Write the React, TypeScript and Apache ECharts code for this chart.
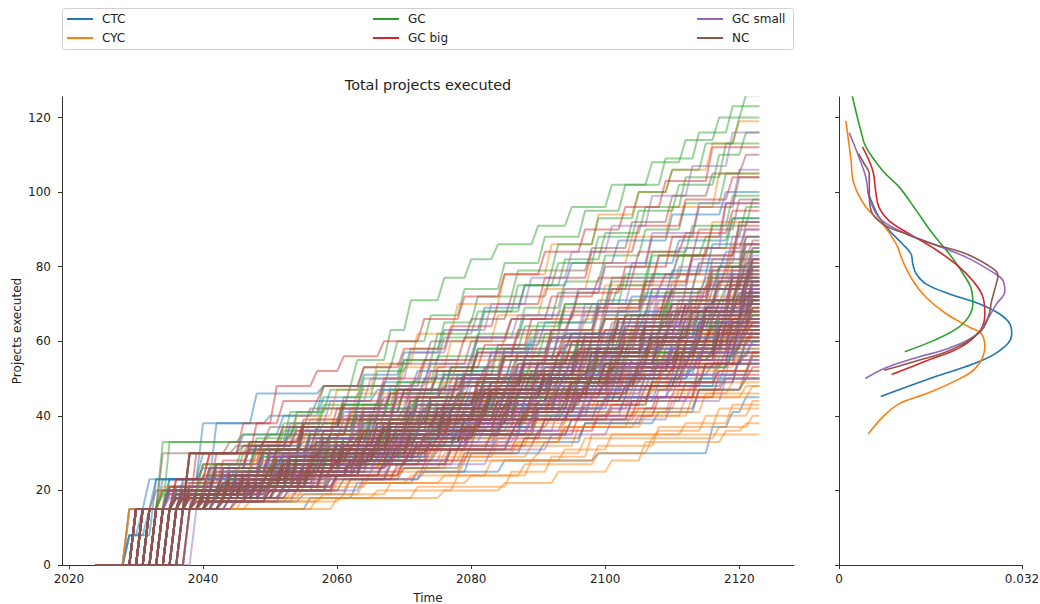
import React, { useEffect, useRef } from "react";
import * as echarts from "echarts";

const GROUPS = ["CTC", "CYC", "GC", "GC big", "GC small", "NC"];
const COLORS = ["#1f77b4", "#ff7f0e", "#2ca02c", "#d62728", "#9467bd", "#8c564b"];
const START_YEAR = 2024;
const END_YEAR = 2123;
const X_TICKS = [2020, 2040, 2060, 2080, 2100, 2120];
const Y_TICKS = [0, 20, 40, 60, 80, 100, 120];
const KDE_TICKS = [0, 0.032];

// each run: [year the count changes, new count, ...]
const CTC_RUNS: number[][] = [
  [2031, 15, 2056, 18, 2063, 22, 2072, 25, 2085, 28, 2099, 30, 2116, 37, 2119, 41, 2121, 45],
  [2029, 8, 2033, 23, 2040, 26, 2052, 30, 2064, 33, 2078, 37, 2090, 41, 2103, 45, 2114, 50],
  [2034, 15, 2040, 19, 2050, 22, 2058, 27, 2068, 31, 2076, 35, 2088, 40, 2097, 44, 2108, 49, 2118, 54],
  [2032, 15, 2035, 23, 2040, 38, 2048, 46, 2058, 48, 2072, 50, 2090, 52, 2104, 55, 2116, 57],
  [2036, 15, 2041, 18, 2049, 21, 2055, 25, 2062, 29, 2070, 33, 2079, 38, 2088, 43, 2096, 47, 2105, 52, 2114, 56, 2120, 59],
  [2030, 15, 2035, 18, 2044, 23, 2052, 26, 2061, 31, 2069, 35, 2077, 40, 2086, 44, 2096, 48, 2104, 53, 2113, 60],
  [2033, 15, 2040, 17, 2047, 20, 2053, 25, 2060, 28, 2067, 33, 2075, 37, 2084, 42, 2093, 47, 2102, 52, 2111, 57, 2119, 61],
  [2037, 15, 2042, 20, 2049, 24, 2057, 27, 2064, 32, 2072, 36, 2080, 41, 2089, 45, 2098, 50, 2106, 55, 2115, 62],
  [2031, 15, 2036, 19, 2046, 22, 2055, 26, 2063, 30, 2071, 35, 2078, 40, 2088, 44, 2097, 49, 2108, 55, 2117, 62],
  [2035, 15, 2039, 20, 2045, 24, 2052, 28, 2059, 33, 2066, 37, 2075, 41, 2083, 46, 2091, 50, 2100, 55, 2110, 59, 2120, 63],
  [2032, 15, 2037, 18, 2043, 22, 2050, 27, 2058, 31, 2065, 36, 2073, 40, 2081, 45, 2090, 50, 2099, 54, 2108, 59, 2118, 64],
  [2029, 8, 2031, 15, 2038, 20, 2046, 24, 2053, 29, 2061, 33, 2069, 38, 2077, 42, 2086, 47, 2094, 52, 2103, 57, 2114, 65],
  [2034, 15, 2040, 19, 2047, 25, 2054, 29, 2061, 34, 2068, 38, 2076, 43, 2084, 48, 2092, 53, 2100, 57, 2109, 62, 2119, 66],
  [2030, 15, 2035, 23, 2045, 26, 2052, 30, 2059, 35, 2066, 40, 2074, 45, 2082, 50, 2090, 54, 2099, 59, 2108, 63, 2117, 68],
  [2033, 15, 2038, 20, 2044, 26, 2051, 31, 2058, 36, 2065, 41, 2072, 45, 2080, 50, 2088, 55, 2096, 60, 2105, 65, 2115, 70],
  [2031, 15, 2036, 21, 2042, 27, 2048, 32, 2055, 37, 2063, 42, 2071, 47, 2079, 52, 2087, 57, 2095, 62, 2104, 67, 2113, 74],
  [2032, 15, 2037, 19, 2044, 24, 2051, 29, 2058, 34, 2065, 39, 2072, 45, 2079, 50, 2087, 56, 2094, 62, 2102, 68, 2110, 74, 2119, 80],
  [2030, 15, 2034, 20, 2042, 25, 2049, 30, 2056, 36, 2063, 41, 2070, 47, 2077, 53, 2084, 59, 2091, 65, 2099, 71, 2107, 78, 2116, 86],
  [2031, 15, 2035, 20, 2041, 26, 2048, 32, 2054, 37, 2061, 43, 2067, 49, 2074, 55, 2081, 61, 2088, 67, 2096, 74, 2104, 81, 2111, 87, 2119, 93],
  [2029, 15, 2033, 23, 2040, 30, 2046, 35, 2052, 40, 2058, 45, 2064, 51, 2070, 57, 2076, 63, 2082, 69, 2088, 75, 2095, 81, 2102, 87, 2110, 94, 2118, 100],
  [2031, 15, 2036, 19, 2046, 21, 2052, 26, 2063, 28, 2068, 33, 2079, 36, 2085, 41, 2096, 44, 2102, 50, 2113, 53, 2119, 58],
  [2029, 15, 2034, 23, 2044, 25, 2050, 30, 2061, 32, 2066, 37, 2077, 40, 2083, 45, 2094, 48, 2100, 54, 2111, 57, 2118, 63],
  [2033, 15, 2040, 18, 2048, 22, 2058, 24, 2064, 29, 2075, 32, 2081, 37, 2092, 40, 2098, 45, 2110, 48, 2117, 54],
  [2030, 15, 2032, 23, 2042, 38, 2050, 40, 2057, 44, 2066, 47, 2072, 52, 2083, 55, 2089, 60, 2100, 63, 2106, 68, 2116, 71, 2121, 76],
  [2035, 15, 2043, 17, 2055, 19, 2062, 23, 2073, 25, 2080, 30, 2091, 33, 2097, 38, 2108, 41, 2114, 47, 2121, 50],
  [2032, 15, 2037, 20, 2045, 24, 2051, 29, 2060, 32, 2066, 38, 2076, 41, 2082, 46, 2092, 50, 2098, 55, 2108, 58, 2114, 64, 2121, 67],
  [2036, 15, 2044, 18, 2052, 21, 2059, 26, 2068, 29, 2074, 34, 2084, 37, 2090, 42, 2100, 45, 2106, 51, 2116, 54, 2121, 61],
  [2031, 15, 2035, 21, 2042, 25, 2050, 28, 2056, 34, 2065, 37, 2071, 43, 2080, 46, 2086, 52, 2096, 55, 2102, 61, 2112, 64, 2119, 70],
  [2034, 15, 2039, 19, 2050, 21, 2056, 25, 2067, 27, 2073, 32, 2084, 35, 2090, 40, 2101, 43, 2107, 48, 2118, 51, 2122, 56],
  [2029, 8, 2032, 15, 2037, 23, 2047, 26, 2053, 31, 2062, 34, 2068, 40, 2077, 43, 2083, 49, 2093, 52, 2099, 58, 2109, 62, 2115, 68, 2122, 73],
  [2033, 15, 2038, 18, 2047, 21, 2053, 25, 2062, 28, 2069, 32, 2078, 35, 2085, 39, 2094, 42, 2101, 47, 2110, 50, 2117, 56, 2122, 60],
  [2030, 15, 2035, 20, 2040, 27, 2047, 31, 2053, 37, 2061, 41, 2067, 47, 2075, 51, 2081, 57, 2089, 61, 2095, 68, 2104, 72, 2110, 79, 2118, 84],
];

const CYC_RUNS: number[][] = [
  [2032, 15, 2057, 18, 2072, 21, 2086, 25, 2092, 29, 2098, 35],
  [2034, 15, 2060, 18, 2076, 20, 2085, 22, 2093, 25, 2101, 28, 2106, 33, 2118, 36, 2121, 38],
  [2036, 15, 2046, 18, 2066, 20, 2078, 24, 2089, 28, 2099, 32, 2108, 37, 2117, 42],
  [2033, 15, 2040, 18, 2055, 21, 2065, 25, 2074, 29, 2084, 33, 2094, 37, 2104, 41, 2115, 46],
  [2031, 15, 2038, 18, 2050, 20, 2060, 24, 2070, 28, 2079, 32, 2089, 37, 2099, 41, 2110, 46, 2119, 49],
  [2035, 15, 2041, 19, 2050, 22, 2058, 26, 2067, 30, 2076, 34, 2086, 38, 2095, 43, 2104, 47, 2114, 52],
  [2030, 15, 2036, 18, 2046, 21, 2055, 25, 2063, 29, 2072, 33, 2081, 38, 2090, 42, 2099, 46, 2108, 51, 2117, 55],
  [2037, 15, 2043, 18, 2051, 22, 2059, 26, 2067, 30, 2075, 35, 2084, 39, 2092, 44, 2101, 48, 2110, 53, 2120, 57],
  [2033, 15, 2039, 20, 2047, 23, 2056, 27, 2064, 31, 2073, 35, 2081, 40, 2090, 44, 2099, 49, 2109, 53, 2118, 58],
  [2032, 15, 2036, 18, 2044, 22, 2052, 26, 2060, 30, 2068, 35, 2077, 39, 2085, 43, 2094, 48, 2103, 52, 2112, 60],
  [2038, 15, 2041, 18, 2048, 23, 2056, 27, 2064, 31, 2072, 36, 2080, 40, 2089, 45, 2097, 49, 2106, 54, 2115, 61],
  [2034, 15, 2040, 19, 2047, 24, 2054, 28, 2062, 32, 2070, 37, 2078, 41, 2087, 46, 2095, 50, 2104, 55, 2114, 62],
  [2031, 15, 2037, 20, 2043, 25, 2051, 29, 2059, 33, 2066, 38, 2075, 42, 2083, 47, 2091, 52, 2100, 56, 2109, 60, 2118, 64],
  [2035, 15, 2040, 21, 2046, 26, 2053, 30, 2060, 35, 2068, 39, 2076, 44, 2084, 49, 2092, 54, 2100, 58, 2109, 63, 2119, 67],
  [2030, 15, 2034, 20, 2041, 25, 2048, 30, 2055, 35, 2063, 40, 2071, 44, 2079, 49, 2087, 54, 2095, 59, 2104, 64, 2114, 71],
  [2033, 15, 2038, 19, 2045, 23, 2052, 28, 2059, 33, 2066, 38, 2073, 43, 2081, 49, 2089, 54, 2097, 60, 2105, 66, 2113, 72, 2120, 77],
  [2032, 15, 2037, 19, 2044, 24, 2051, 29, 2058, 34, 2065, 40, 2072, 45, 2079, 51, 2087, 57, 2094, 63, 2102, 69, 2110, 76, 2119, 84],
  [2031, 15, 2036, 20, 2043, 26, 2050, 31, 2057, 37, 2064, 43, 2071, 49, 2078, 55, 2085, 61, 2093, 68, 2100, 75, 2108, 83, 2116, 92],
  [2030, 15, 2035, 21, 2042, 27, 2049, 33, 2056, 39, 2063, 46, 2070, 53, 2077, 60, 2084, 67, 2091, 74, 2098, 81, 2104, 88, 2110, 96, 2117, 105],
  [2029, 15, 2034, 20, 2040, 27, 2047, 33, 2054, 40, 2060, 47, 2066, 54, 2072, 62, 2078, 70, 2085, 78, 2092, 86, 2099, 94, 2105, 100, 2110, 106, 2116, 113, 2120, 119],
  [2033, 15, 2045, 17, 2058, 19, 2064, 22, 2076, 24, 2083, 28, 2094, 31, 2101, 35, 2112, 38, 2119, 43],
  [2031, 15, 2038, 18, 2050, 21, 2056, 25, 2066, 27, 2073, 32, 2083, 35, 2090, 40, 2101, 43, 2107, 49, 2117, 52, 2122, 56],
  [2035, 15, 2042, 18, 2052, 20, 2059, 24, 2070, 26, 2077, 31, 2088, 34, 2094, 39, 2105, 42, 2111, 47, 2121, 50],
  [2030, 15, 2036, 20, 2045, 23, 2052, 28, 2061, 31, 2068, 36, 2077, 39, 2084, 45, 2094, 48, 2100, 54, 2110, 57, 2116, 63, 2122, 66],
  [2037, 15, 2047, 17, 2061, 19, 2068, 22, 2080, 24, 2088, 27, 2099, 30, 2107, 34, 2117, 37, 2122, 40],
  [2032, 15, 2039, 19, 2048, 22, 2054, 27, 2064, 30, 2070, 35, 2080, 38, 2086, 44, 2096, 47, 2102, 53, 2112, 56, 2118, 62, 2122, 65],
  [2034, 15, 2040, 18, 2051, 20, 2058, 24, 2069, 26, 2076, 30, 2087, 33, 2094, 37, 2105, 40, 2112, 45, 2121, 48],
  [2029, 15, 2034, 21, 2041, 26, 2048, 30, 2055, 35, 2062, 39, 2069, 45, 2076, 49, 2083, 55, 2090, 60, 2097, 66, 2104, 71, 2111, 78, 2119, 86],
  [2036, 15, 2043, 18, 2054, 20, 2062, 23, 2072, 25, 2079, 29, 2089, 32, 2096, 37, 2106, 40, 2113, 45, 2122, 48],
  [2031, 15, 2037, 19, 2045, 23, 2052, 27, 2060, 30, 2067, 35, 2076, 38, 2082, 44, 2092, 47, 2098, 53, 2108, 56, 2114, 62, 2121, 68],
  [2033, 15, 2041, 17, 2053, 19, 2060, 22, 2071, 24, 2079, 28, 2090, 30, 2097, 34, 2108, 36, 2115, 40, 2122, 44],
  [2030, 15, 2035, 19, 2043, 22, 2050, 27, 2059, 30, 2065, 35, 2075, 38, 2081, 44, 2090, 47, 2096, 53, 2106, 57, 2112, 63, 2120, 72],
];

const GC_RUNS: number[][] = [
  [2030, 15, 2035, 20, 2041, 26, 2047, 33, 2053, 41, 2058, 48, 2063, 55, 2068, 63, 2071, 71, 2076, 77, 2080, 82, 2084, 86, 2090, 91, 2095, 96, 2101, 102, 2107, 108, 2112, 114, 2117, 120, 2121, 126],
  [2031, 15, 2036, 21, 2042, 27, 2048, 34, 2054, 41, 2059, 47, 2064, 53, 2069, 60, 2074, 67, 2079, 74, 2085, 81, 2091, 88, 2097, 95, 2103, 102, 2109, 109, 2114, 116, 2119, 123],
  [2032, 15, 2037, 20, 2043, 25, 2049, 31, 2055, 38, 2061, 45, 2066, 52, 2071, 58, 2076, 65, 2081, 72, 2087, 79, 2093, 86, 2099, 93, 2105, 100, 2110, 106, 2115, 113, 2120, 120],
  [2030, 15, 2034, 19, 2040, 24, 2046, 30, 2052, 36, 2058, 42, 2064, 48, 2070, 55, 2076, 61, 2082, 68, 2088, 75, 2094, 82, 2100, 89, 2106, 96, 2112, 104, 2118, 113],
  [2033, 15, 2038, 20, 2044, 25, 2050, 31, 2057, 37, 2063, 43, 2069, 49, 2075, 56, 2081, 62, 2088, 69, 2094, 76, 2100, 83, 2106, 90, 2112, 97, 2118, 105],
  [2031, 15, 2036, 20, 2043, 24, 2049, 29, 2056, 35, 2062, 40, 2068, 46, 2075, 52, 2081, 58, 2088, 64, 2094, 70, 2101, 77, 2107, 84, 2113, 91, 2119, 99],
  [2034, 15, 2039, 19, 2046, 24, 2052, 29, 2059, 34, 2065, 39, 2072, 45, 2078, 51, 2085, 57, 2092, 63, 2099, 70, 2106, 77, 2112, 85, 2119, 93],
  [2032, 15, 2037, 19, 2044, 23, 2051, 28, 2058, 33, 2065, 38, 2072, 44, 2079, 49, 2086, 55, 2093, 61, 2100, 67, 2107, 74, 2114, 81, 2121, 88],
  [2035, 15, 2040, 20, 2047, 24, 2054, 29, 2061, 34, 2068, 39, 2075, 44, 2082, 50, 2089, 55, 2096, 61, 2103, 67, 2110, 74, 2117, 80, 2121, 84],
  [2031, 15, 2036, 18, 2043, 22, 2050, 27, 2057, 31, 2064, 36, 2071, 41, 2078, 46, 2086, 51, 2093, 57, 2101, 63, 2109, 70, 2117, 80],
  [2033, 15, 2038, 19, 2045, 23, 2052, 27, 2059, 32, 2067, 36, 2074, 41, 2081, 46, 2089, 51, 2096, 57, 2104, 63, 2112, 70, 2120, 77],
  [2036, 15, 2040, 18, 2047, 22, 2054, 26, 2061, 31, 2068, 35, 2076, 40, 2083, 45, 2091, 50, 2099, 56, 2107, 62, 2114, 68, 2121, 74],
  [2030, 15, 2034, 33, 2050, 35, 2058, 38, 2066, 41, 2074, 45, 2082, 49, 2090, 54, 2098, 59, 2106, 64, 2114, 68, 2120, 72],
  [2032, 15, 2037, 18, 2044, 21, 2051, 25, 2058, 29, 2066, 33, 2074, 38, 2082, 43, 2090, 48, 2098, 53, 2106, 58, 2114, 64, 2121, 70],
  [2034, 15, 2039, 19, 2046, 23, 2053, 27, 2061, 31, 2068, 35, 2076, 40, 2084, 44, 2092, 49, 2100, 54, 2108, 59, 2116, 65, 2122, 69],
  [2031, 15, 2036, 20, 2043, 24, 2051, 28, 2059, 32, 2067, 36, 2075, 40, 2083, 45, 2091, 50, 2099, 55, 2107, 60, 2116, 68],
  [2033, 15, 2038, 18, 2045, 22, 2053, 26, 2061, 30, 2069, 34, 2077, 39, 2085, 43, 2093, 48, 2101, 53, 2109, 58, 2117, 66],
  [2037, 15, 2041, 19, 2048, 23, 2055, 27, 2063, 31, 2071, 35, 2079, 40, 2087, 44, 2095, 49, 2103, 54, 2111, 59, 2119, 65],
  [2030, 15, 2035, 19, 2043, 22, 2051, 26, 2059, 30, 2067, 34, 2075, 38, 2083, 43, 2091, 47, 2099, 52, 2108, 57, 2117, 63],
  [2035, 15, 2040, 18, 2048, 21, 2056, 25, 2064, 29, 2072, 33, 2080, 37, 2088, 42, 2096, 46, 2104, 51, 2113, 55, 2120, 60],
  [2032, 15, 2038, 18, 2046, 21, 2054, 24, 2062, 28, 2070, 32, 2078, 36, 2086, 40, 2094, 44, 2102, 48, 2111, 53, 2119, 57],
  [2031, 15, 2036, 20, 2042, 26, 2050, 29, 2055, 36, 2063, 40, 2068, 47, 2076, 51, 2081, 58, 2089, 63, 2094, 70, 2102, 75, 2107, 83, 2115, 88, 2121, 96],
  [2033, 15, 2039, 19, 2047, 22, 2053, 28, 2062, 31, 2068, 37, 2077, 41, 2083, 47, 2092, 51, 2098, 57, 2107, 61, 2113, 68, 2121, 73],
  [2030, 15, 2034, 20, 2044, 23, 2049, 29, 2058, 32, 2064, 38, 2073, 42, 2079, 48, 2088, 52, 2094, 59, 2103, 63, 2109, 70, 2118, 75, 2122, 80],
  [2035, 15, 2041, 18, 2049, 21, 2056, 27, 2065, 30, 2071, 36, 2081, 39, 2087, 45, 2096, 49, 2102, 55, 2112, 58, 2118, 65, 2122, 67],
  [2032, 15, 2035, 33, 2046, 35, 2054, 38, 2061, 43, 2070, 46, 2076, 52, 2085, 56, 2091, 62, 2100, 66, 2106, 73, 2115, 77, 2121, 84],
  [2034, 15, 2038, 21, 2045, 25, 2051, 31, 2059, 35, 2064, 42, 2072, 46, 2077, 53, 2085, 58, 2090, 65, 2098, 70, 2103, 78, 2111, 83, 2116, 91, 2122, 98],
  [2031, 15, 2040, 18, 2048, 22, 2055, 27, 2064, 30, 2070, 36, 2080, 39, 2086, 45, 2095, 49, 2101, 55, 2111, 59, 2117, 66, 2122, 71],
  [2036, 15, 2042, 19, 2050, 23, 2057, 28, 2066, 31, 2072, 37, 2081, 41, 2087, 47, 2096, 51, 2102, 57, 2111, 61, 2117, 68, 2122, 76],
  [2030, 15, 2035, 21, 2040, 27, 2046, 32, 2052, 38, 2058, 43, 2064, 50, 2070, 55, 2075, 62, 2081, 68, 2087, 75, 2093, 81, 2099, 88, 2105, 95, 2111, 102, 2117, 110, 2121, 116],
  [2033, 15, 2037, 18, 2046, 21, 2052, 26, 2061, 29, 2067, 34, 2076, 37, 2082, 43, 2092, 46, 2098, 52, 2108, 55, 2114, 61, 2121, 64],
  [2035, 15, 2039, 20, 2045, 24, 2053, 28, 2060, 34, 2068, 38, 2074, 44, 2082, 48, 2088, 55, 2096, 59, 2102, 66, 2110, 71, 2116, 78, 2122, 84],
  [2032, 15, 2038, 19, 2046, 23, 2054, 27, 2061, 33, 2069, 36, 2076, 42, 2084, 46, 2091, 52, 2099, 56, 2106, 63, 2114, 67, 2121, 71],
];

const GC_BIG_RUNS: number[][] = [
  [2031, 15, 2036, 23, 2041, 30, 2046, 38, 2051, 48, 2057, 52, 2061, 56, 2067, 60, 2073, 66, 2079, 72, 2085, 78, 2091, 84, 2097, 90, 2103, 96, 2109, 103, 2116, 112],
  [2030, 15, 2035, 20, 2042, 30, 2048, 38, 2052, 44, 2058, 48, 2064, 53, 2070, 58, 2077, 64, 2084, 70, 2091, 77, 2098, 84, 2105, 91, 2112, 98, 2119, 104],
  [2033, 15, 2038, 19, 2044, 25, 2050, 30, 2056, 35, 2062, 41, 2069, 47, 2075, 53, 2082, 59, 2089, 66, 2096, 73, 2103, 80, 2110, 88, 2118, 97],
  [2032, 15, 2037, 20, 2043, 24, 2050, 29, 2057, 34, 2064, 39, 2071, 45, 2078, 50, 2085, 56, 2092, 63, 2099, 69, 2106, 76, 2113, 83, 2120, 91],
  [2034, 15, 2039, 19, 2046, 23, 2053, 28, 2060, 33, 2067, 38, 2074, 43, 2081, 48, 2088, 54, 2095, 60, 2102, 66, 2109, 72, 2116, 79, 2121, 86],
  [2031, 15, 2036, 18, 2043, 22, 2050, 26, 2057, 31, 2064, 36, 2071, 41, 2078, 46, 2085, 51, 2093, 57, 2100, 63, 2108, 69, 2115, 75, 2121, 82],
  [2035, 15, 2040, 19, 2047, 23, 2054, 28, 2061, 32, 2068, 37, 2075, 42, 2082, 47, 2090, 52, 2097, 58, 2105, 64, 2112, 70, 2119, 78],
  [2030, 15, 2035, 20, 2042, 24, 2049, 28, 2056, 32, 2064, 36, 2071, 41, 2079, 46, 2087, 51, 2095, 56, 2103, 62, 2111, 68, 2119, 75],
  [2033, 15, 2038, 18, 2045, 22, 2052, 26, 2060, 30, 2068, 35, 2076, 39, 2084, 44, 2092, 49, 2100, 54, 2108, 60, 2116, 66, 2121, 72],
  [2036, 15, 2040, 18, 2047, 22, 2055, 26, 2063, 30, 2071, 34, 2079, 39, 2087, 44, 2095, 49, 2103, 54, 2111, 60, 2119, 70],
  [2031, 15, 2037, 19, 2044, 22, 2052, 26, 2060, 28, 2066, 32, 2074, 36, 2082, 41, 2090, 46, 2098, 51, 2106, 56, 2114, 62, 2121, 68],
  [2034, 15, 2039, 18, 2047, 21, 2055, 25, 2063, 29, 2071, 33, 2079, 37, 2087, 42, 2095, 46, 2103, 51, 2111, 57, 2119, 66],
  [2032, 15, 2038, 20, 2045, 23, 2053, 27, 2061, 31, 2069, 35, 2077, 39, 2085, 43, 2093, 48, 2101, 53, 2110, 58, 2118, 65],
  [2037, 15, 2041, 19, 2049, 23, 2057, 27, 2065, 31, 2073, 35, 2081, 39, 2089, 44, 2097, 48, 2105, 53, 2113, 58, 2120, 64],
  [2030, 15, 2036, 18, 2044, 21, 2052, 25, 2060, 28, 2068, 32, 2076, 36, 2084, 41, 2092, 45, 2100, 50, 2109, 55, 2117, 63],
  [2035, 15, 2040, 19, 2048, 22, 2056, 26, 2064, 29, 2072, 33, 2080, 37, 2088, 41, 2096, 46, 2104, 50, 2112, 55, 2119, 61],
  [2033, 15, 2039, 17, 2047, 20, 2055, 24, 2063, 27, 2071, 31, 2079, 35, 2087, 39, 2095, 44, 2103, 48, 2112, 54, 2120, 59],
  [2031, 15, 2037, 18, 2045, 21, 2054, 24, 2062, 28, 2071, 31, 2080, 35, 2089, 39, 2097, 43, 2106, 48, 2115, 54, 2121, 57],
  [2036, 15, 2041, 17, 2050, 20, 2060, 23, 2069, 27, 2078, 31, 2087, 35, 2096, 40, 2105, 45, 2114, 54],
  [2034, 15, 2040, 18, 2050, 21, 2060, 24, 2070, 28, 2080, 32, 2090, 36, 2099, 40, 2108, 45, 2117, 51],
  [2031, 15, 2037, 20, 2045, 23, 2051, 29, 2060, 32, 2066, 38, 2075, 41, 2081, 47, 2090, 51, 2096, 57, 2106, 60, 2112, 66, 2121, 70],
  [2034, 15, 2039, 30, 2047, 33, 2052, 37, 2061, 40, 2067, 45, 2076, 48, 2082, 53, 2091, 56, 2097, 61, 2106, 64, 2112, 70, 2121, 74],
  [2030, 15, 2036, 19, 2044, 22, 2052, 26, 2060, 28, 2066, 34, 2076, 37, 2082, 42, 2092, 45, 2098, 51, 2108, 54, 2115, 60, 2122, 63],
  [2033, 15, 2038, 22, 2043, 28, 2049, 33, 2055, 39, 2061, 44, 2067, 50, 2073, 55, 2079, 61, 2086, 66, 2092, 72, 2099, 77, 2105, 84, 2112, 89, 2119, 95],
  [2036, 15, 2043, 18, 2052, 21, 2058, 26, 2068, 28, 2074, 33, 2084, 36, 2090, 41, 2100, 44, 2107, 49, 2117, 52, 2122, 57],
  [2032, 15, 2036, 23, 2041, 30, 2049, 33, 2055, 38, 2064, 41, 2070, 47, 2079, 50, 2085, 56, 2094, 60, 2100, 66, 2110, 70, 2116, 77, 2122, 81],
  [2035, 15, 2040, 19, 2049, 22, 2055, 27, 2064, 30, 2070, 35, 2080, 38, 2086, 44, 2095, 47, 2101, 53, 2111, 56, 2117, 62, 2122, 65],
  [2031, 15, 2038, 18, 2046, 21, 2054, 25, 2062, 28, 2069, 33, 2079, 36, 2085, 41, 2094, 44, 2101, 50, 2110, 53, 2117, 59, 2122, 62],
  [2037, 15, 2041, 20, 2047, 24, 2056, 27, 2062, 32, 2071, 35, 2077, 41, 2086, 44, 2092, 50, 2101, 54, 2107, 60, 2116, 64, 2122, 69],
  [2030, 15, 2035, 21, 2041, 26, 2047, 32, 2054, 36, 2060, 42, 2068, 46, 2074, 52, 2081, 57, 2087, 63, 2095, 67, 2101, 74, 2109, 78, 2115, 85, 2121, 90],
  [2033, 15, 2040, 18, 2050, 20, 2057, 24, 2067, 27, 2074, 31, 2084, 34, 2091, 39, 2101, 42, 2108, 47, 2118, 50, 2122, 53],
  [2034, 15, 2038, 19, 2046, 23, 2052, 28, 2061, 31, 2067, 37, 2076, 40, 2082, 46, 2091, 50, 2097, 56, 2107, 59, 2113, 66, 2121, 72],
];

const GC_SMALL_RUNS: number[][] = [
  [2030, 15, 2035, 20, 2041, 26, 2047, 32, 2053, 38, 2059, 44, 2065, 50, 2071, 57, 2077, 63, 2083, 70, 2089, 77, 2095, 84, 2101, 91, 2107, 99, 2113, 107, 2119, 116],
  [2032, 15, 2037, 19, 2043, 25, 2049, 30, 2055, 36, 2062, 42, 2068, 48, 2074, 54, 2081, 61, 2087, 67, 2094, 74, 2100, 81, 2107, 89, 2114, 97, 2120, 106],
  [2031, 15, 2036, 20, 2043, 24, 2050, 29, 2056, 34, 2063, 40, 2069, 45, 2076, 51, 2083, 57, 2090, 63, 2097, 70, 2104, 77, 2111, 85, 2118, 97],
  [2034, 15, 2038, 19, 2045, 23, 2052, 28, 2058, 33, 2065, 38, 2072, 44, 2079, 49, 2086, 55, 2093, 61, 2100, 67, 2107, 74, 2114, 81, 2120, 90],
  [2033, 15, 2038, 18, 2045, 23, 2052, 27, 2059, 32, 2066, 37, 2073, 42, 2080, 48, 2087, 53, 2094, 59, 2101, 65, 2108, 71, 2115, 78, 2121, 86],
  [2035, 15, 2040, 19, 2047, 23, 2054, 27, 2061, 32, 2068, 37, 2075, 42, 2082, 47, 2089, 52, 2096, 58, 2103, 64, 2110, 70, 2117, 77, 2122, 83],
  [2031, 15, 2037, 18, 2044, 22, 2051, 26, 2058, 30, 2065, 35, 2073, 40, 2080, 45, 2088, 50, 2095, 56, 2103, 62, 2110, 68, 2117, 74, 2122, 80],
  [2036, 15, 2041, 19, 2048, 23, 2055, 27, 2063, 31, 2070, 36, 2077, 41, 2085, 46, 2092, 51, 2100, 57, 2107, 63, 2114, 70, 2121, 78],
  [2032, 15, 2038, 19, 2045, 22, 2053, 26, 2060, 30, 2068, 35, 2075, 40, 2083, 45, 2091, 50, 2098, 55, 2106, 61, 2114, 68, 2121, 76],
  [2034, 15, 2039, 18, 2046, 22, 2054, 26, 2061, 30, 2069, 34, 2076, 39, 2084, 44, 2092, 49, 2100, 54, 2108, 60, 2115, 67, 2121, 75],
  [2037, 15, 2041, 18, 2049, 22, 2056, 26, 2064, 30, 2071, 34, 2079, 39, 2087, 44, 2094, 49, 2102, 54, 2110, 60, 2117, 67, 2122, 74],
  [2030, 15, 2036, 18, 2043, 21, 2051, 25, 2058, 29, 2066, 33, 2074, 38, 2082, 43, 2090, 48, 2098, 53, 2106, 58, 2114, 65, 2121, 73],
  [2033, 15, 2039, 19, 2047, 22, 2055, 26, 2062, 30, 2070, 34, 2078, 38, 2086, 43, 2094, 48, 2102, 53, 2110, 59, 2117, 65, 2122, 72],
  [2035, 15, 2040, 18, 2048, 21, 2056, 25, 2064, 29, 2072, 33, 2080, 37, 2088, 42, 2096, 47, 2104, 52, 2112, 58, 2119, 70],
  [2031, 15, 2037, 19, 2045, 22, 2053, 26, 2061, 30, 2069, 34, 2077, 38, 2085, 42, 2093, 47, 2101, 52, 2110, 58, 2118, 68],
  [2038, 15, 2042, 18, 2050, 21, 2058, 25, 2066, 29, 2074, 33, 2082, 37, 2090, 41, 2098, 46, 2106, 51, 2114, 57, 2120, 65],
  [2032, 15, 2039, 18, 2047, 21, 2056, 24, 2064, 28, 2072, 32, 2080, 36, 2089, 40, 2097, 45, 2105, 50, 2113, 55, 2120, 62],
  [2036, 15, 2042, 18, 2051, 21, 2060, 24, 2068, 28, 2077, 32, 2086, 36, 2094, 40, 2103, 45, 2111, 51, 2119, 59],
  [2034, 15, 2041, 17, 2050, 20, 2059, 23, 2068, 27, 2077, 31, 2086, 35, 2095, 39, 2104, 44, 2113, 49, 2120, 55],
  [2039, 15, 2045, 17, 2054, 20, 2064, 23, 2073, 27, 2083, 31, 2092, 35, 2101, 39, 2110, 44, 2118, 50],
  [2032, 15, 2040, 18, 2045, 24, 2055, 27, 2060, 33, 2070, 36, 2075, 43, 2085, 46, 2090, 53, 2100, 57, 2105, 64, 2115, 68, 2121, 74],
  [2034, 15, 2037, 20, 2048, 23, 2053, 29, 2063, 32, 2069, 38, 2078, 42, 2084, 48, 2094, 51, 2099, 58, 2110, 61, 2115, 69, 2122, 76],
  [2030, 15, 2039, 19, 2043, 25, 2052, 28, 2058, 34, 2068, 37, 2073, 44, 2082, 47, 2088, 54, 2098, 58, 2103, 65, 2113, 69, 2119, 77],
  [2036, 15, 2042, 18, 2051, 21, 2057, 27, 2067, 30, 2072, 36, 2083, 39, 2088, 45, 2099, 49, 2104, 55, 2115, 59, 2121, 66],
  [2033, 15, 2036, 21, 2046, 24, 2050, 31, 2059, 34, 2064, 41, 2074, 44, 2079, 51, 2088, 55, 2093, 62, 2103, 66, 2108, 74, 2117, 78, 2122, 85],
  [2031, 15, 2038, 18, 2049, 20, 2055, 26, 2066, 29, 2071, 35, 2082, 38, 2087, 44, 2098, 47, 2103, 53, 2114, 57, 2120, 63],
  [2035, 15, 2041, 20, 2047, 24, 2056, 27, 2061, 33, 2071, 36, 2076, 43, 2086, 46, 2091, 53, 2101, 57, 2106, 64, 2116, 68, 2122, 73],
  [2037, 15, 2044, 18, 2049, 23, 2060, 26, 2065, 32, 2075, 35, 2080, 41, 2091, 44, 2096, 51, 2106, 54, 2111, 61, 2120, 66],
  [2032, 15, 2035, 19, 2042, 26, 2050, 29, 2055, 36, 2064, 39, 2069, 46, 2078, 50, 2083, 57, 2092, 61, 2097, 68, 2106, 72, 2111, 80, 2119, 88],
  [2034, 15, 2043, 18, 2052, 21, 2058, 26, 2068, 29, 2073, 35, 2084, 38, 2090, 44, 2101, 47, 2107, 53, 2118, 57, 2122, 60],
  [2030, 15, 2036, 18, 2041, 23, 2051, 26, 2056, 32, 2066, 35, 2071, 41, 2081, 45, 2086, 51, 2096, 55, 2101, 62, 2111, 66, 2118, 74],
  [2038, 15, 2042, 19, 2050, 22, 2055, 28, 2064, 31, 2070, 37, 2079, 41, 2085, 47, 2094, 51, 2100, 58, 2109, 62, 2115, 69, 2122, 74],
  [2033, 15, 2039, 20, 2046, 23, 2053, 29, 2062, 32, 2067, 38, 2077, 42, 2082, 48, 2092, 52, 2097, 59, 2107, 62, 2112, 70, 2120, 79],
  [2031, 15, 2040, 17, 2048, 22, 2059, 25, 2064, 30, 2074, 33, 2080, 39, 2090, 42, 2095, 48, 2105, 52, 2110, 58, 2120, 62],
  [2035, 15, 2038, 21, 2044, 27, 2052, 30, 2057, 37, 2066, 40, 2071, 47, 2080, 51, 2085, 58, 2094, 62, 2099, 70, 2108, 74, 2113, 82, 2121, 92],
  [2036, 15, 2041, 18, 2047, 22, 2057, 25, 2063, 31, 2073, 34, 2078, 40, 2088, 44, 2093, 50, 2103, 54, 2108, 61, 2118, 65, 2122, 71],
  [2032, 15, 2037, 19, 2045, 22, 2051, 28, 2060, 31, 2066, 37, 2075, 41, 2081, 47, 2091, 51, 2096, 57, 2106, 61, 2111, 68, 2120, 73],
  [2034, 15, 2040, 18, 2048, 21, 2054, 27, 2065, 30, 2070, 35, 2081, 38, 2086, 44, 2097, 48, 2102, 54, 2113, 58, 2119, 64],
  [2030, 15, 2035, 20, 2043, 24, 2049, 30, 2058, 33, 2063, 40, 2072, 43, 2077, 50, 2087, 54, 2092, 61, 2102, 64, 2107, 72, 2116, 76, 2122, 82],
  [2037, 15, 2043, 18, 2053, 20, 2060, 25, 2070, 28, 2076, 33, 2087, 36, 2093, 42, 2104, 45, 2110, 51, 2120, 55],
];

const NC_RUNS: number[][] = [
  [2031, 15, 2038, 30, 2044, 33, 2050, 37, 2056, 42, 2062, 48, 2068, 54, 2074, 60, 2080, 66, 2086, 72, 2092, 79, 2098, 85, 2104, 92, 2110, 99, 2116, 105, 2121, 110],
  [2032, 15, 2037, 20, 2043, 26, 2049, 31, 2055, 37, 2061, 42, 2067, 48, 2073, 54, 2080, 60, 2086, 66, 2093, 73, 2100, 80, 2107, 88, 2114, 96, 2120, 104],
  [2031, 15, 2038, 30, 2046, 32, 2053, 35, 2060, 39, 2066, 44, 2073, 50, 2080, 56, 2087, 62, 2094, 69, 2101, 76, 2108, 83, 2114, 90, 2120, 98],
  [2033, 15, 2038, 19, 2044, 24, 2051, 28, 2057, 33, 2064, 38, 2071, 44, 2078, 49, 2085, 55, 2092, 61, 2099, 68, 2106, 75, 2113, 83, 2120, 92],
  [2034, 15, 2039, 20, 2046, 24, 2053, 28, 2060, 33, 2067, 38, 2074, 43, 2081, 49, 2088, 54, 2095, 60, 2102, 66, 2109, 73, 2116, 80, 2121, 88],
  [2032, 15, 2038, 30, 2047, 31, 2055, 33, 2063, 36, 2070, 40, 2077, 45, 2084, 50, 2091, 55, 2098, 61, 2105, 67, 2112, 74, 2118, 80, 2122, 85],
  [2035, 15, 2040, 19, 2047, 23, 2054, 27, 2061, 32, 2068, 37, 2075, 42, 2082, 47, 2089, 52, 2096, 58, 2103, 64, 2110, 70, 2117, 76, 2122, 82],
  [2031, 15, 2036, 18, 2043, 22, 2050, 26, 2057, 30, 2065, 35, 2072, 40, 2079, 45, 2087, 50, 2094, 56, 2101, 62, 2109, 68, 2116, 74, 2122, 80],
  [2033, 15, 2039, 19, 2046, 23, 2053, 27, 2061, 31, 2068, 36, 2076, 41, 2083, 46, 2091, 51, 2098, 57, 2106, 63, 2113, 70, 2120, 78],
  [2036, 15, 2041, 19, 2048, 22, 2056, 26, 2063, 30, 2071, 35, 2078, 40, 2086, 45, 2093, 50, 2101, 56, 2108, 62, 2115, 69, 2121, 77],
  [2030, 15, 2036, 18, 2043, 21, 2051, 25, 2058, 29, 2066, 34, 2074, 39, 2081, 44, 2089, 49, 2097, 54, 2104, 60, 2112, 67, 2120, 76],
  [2034, 15, 2038, 30, 2048, 31, 2057, 33, 2065, 36, 2073, 40, 2081, 45, 2088, 50, 2096, 55, 2103, 60, 2110, 66, 2117, 71, 2122, 75],
  [2032, 15, 2038, 19, 2045, 22, 2053, 26, 2061, 30, 2068, 34, 2076, 39, 2084, 44, 2092, 49, 2100, 54, 2108, 60, 2115, 66, 2121, 73],
  [2037, 15, 2041, 18, 2049, 22, 2057, 25, 2065, 29, 2073, 34, 2081, 38, 2089, 43, 2097, 48, 2105, 53, 2112, 59, 2119, 65, 2122, 71],
  [2031, 15, 2037, 18, 2045, 21, 2053, 25, 2061, 28, 2069, 32, 2077, 37, 2085, 41, 2093, 46, 2101, 51, 2109, 57, 2117, 63, 2122, 69],
  [2035, 15, 2040, 18, 2048, 21, 2056, 25, 2064, 28, 2072, 32, 2080, 36, 2088, 41, 2096, 45, 2104, 50, 2112, 56, 2120, 66],
  [2033, 15, 2039, 17, 2047, 20, 2055, 24, 2063, 27, 2071, 31, 2079, 35, 2087, 39, 2095, 44, 2103, 48, 2111, 54, 2119, 63],
  [2038, 15, 2043, 18, 2051, 21, 2059, 24, 2067, 28, 2075, 31, 2083, 35, 2091, 39, 2099, 44, 2107, 49, 2115, 54, 2121, 60],
  [2034, 15, 2041, 17, 2050, 20, 2059, 23, 2068, 27, 2077, 31, 2086, 35, 2095, 39, 2104, 44, 2112, 49, 2120, 56],
  [2036, 15, 2043, 17, 2052, 20, 2061, 23, 2070, 26, 2079, 30, 2088, 34, 2097, 38, 2106, 42, 2114, 47, 2121, 52],
  [2033, 15, 2036, 18, 2041, 24, 2052, 27, 2057, 33, 2069, 36, 2074, 44, 2085, 47, 2090, 55, 2101, 58, 2106, 66, 2117, 70, 2121, 76],
  [2035, 15, 2043, 19, 2046, 25, 2058, 28, 2062, 35, 2071, 38, 2079, 42, 2083, 49, 2095, 52, 2099, 60, 2111, 63, 2116, 71],
  [2030, 15, 2038, 21, 2049, 23, 2053, 29, 2064, 31, 2068, 38, 2080, 41, 2084, 48, 2092, 51, 2097, 58, 2108, 61, 2113, 68, 2120, 73],
  [2032, 15, 2034, 30, 2045, 32, 2054, 34, 2061, 39, 2070, 42, 2077, 48, 2088, 51, 2094, 57, 2104, 61, 2110, 68, 2119, 72],
  [2037, 15, 2040, 20, 2050, 23, 2056, 30, 2065, 33, 2072, 39, 2082, 43, 2087, 50, 2098, 54, 2103, 61, 2114, 65, 2119, 79],
  [2031, 15, 2039, 17, 2044, 23, 2055, 26, 2060, 32, 2072, 35, 2076, 42, 2086, 45, 2091, 52, 2102, 56, 2107, 63, 2118, 67, 2122, 72],
  [2034, 15, 2037, 22, 2047, 25, 2051, 31, 2063, 34, 2067, 41, 2078, 44, 2082, 51, 2093, 55, 2097, 62, 2109, 66, 2114, 74, 2121, 81],
  [2036, 15, 2044, 18, 2048, 23, 2059, 26, 2065, 31, 2075, 34, 2081, 40, 2090, 44, 2096, 50, 2105, 54, 2112, 60, 2121, 64],
  [2030, 15, 2033, 20, 2042, 27, 2049, 30, 2055, 37, 2064, 40, 2069, 47, 2079, 51, 2084, 58, 2095, 62, 2100, 70, 2110, 74, 2116, 82, 2122, 87],
  [2032, 15, 2040, 18, 2053, 21, 2058, 27, 2069, 30, 2074, 36, 2085, 39, 2089, 46, 2100, 49, 2105, 55, 2116, 58, 2121, 63],
  [2038, 15, 2041, 19, 2046, 22, 2054, 28, 2062, 31, 2067, 37, 2077, 40, 2083, 47, 2092, 50, 2098, 57, 2107, 61, 2113, 68, 2122, 71],
  [2033, 15, 2038, 30, 2050, 32, 2059, 35, 2066, 40, 2076, 43, 2081, 50, 2091, 53, 2096, 60, 2106, 64, 2111, 71, 2120, 75],
  [2035, 15, 2042, 21, 2048, 24, 2057, 30, 2066, 33, 2071, 39, 2081, 42, 2086, 49, 2097, 52, 2102, 59, 2112, 63, 2118, 70],
  [2031, 15, 2036, 19, 2047, 22, 2052, 28, 2061, 31, 2067, 37, 2076, 41, 2083, 47, 2093, 50, 2099, 57, 2109, 60, 2115, 67, 2122, 79],
  [2037, 15, 2045, 18, 2051, 24, 2062, 27, 2068, 33, 2078, 36, 2084, 42, 2094, 46, 2100, 52, 2110, 56, 2117, 62],
  [2034, 15, 2039, 18, 2043, 26, 2053, 29, 2058, 36, 2068, 39, 2073, 46, 2083, 49, 2088, 56, 2098, 60, 2103, 67, 2113, 71, 2119, 77],
  [2032, 15, 2041, 20, 2050, 22, 2056, 28, 2066, 31, 2071, 37, 2082, 40, 2087, 47, 2098, 50, 2103, 56, 2114, 60, 2120, 68],
  [2036, 15, 2040, 17, 2049, 21, 2060, 24, 2064, 30, 2074, 33, 2079, 39, 2090, 42, 2095, 49, 2106, 52, 2111, 59, 2121, 62],
  [2030, 15, 2037, 18, 2044, 24, 2051, 27, 2058, 33, 2067, 36, 2072, 43, 2081, 47, 2087, 54, 2096, 58, 2102, 65, 2111, 69, 2117, 76, 2122, 82],
  [2035, 15, 2038, 30, 2052, 31, 2063, 34, 2070, 38, 2079, 41, 2085, 46, 2095, 49, 2101, 55, 2111, 58, 2117, 64, 2122, 67],
];

// kernel density of the final count: [density, projects]
const CTC_KDE: number[][] = [
  [0.0073, 45.2], [0.0164, 50.3], [0.0234, 53.9], [0.0281, 57.5], [0.0302, 61.9], [0.0299, 64.6],
  [0.0281, 67.3], [0.0246, 70], [0.0193, 72.7], [0.0152, 75.4], [0.0135, 78.1], [0.0129, 80.8],
  [0.0126, 83.4], [0.0111, 86.1], [0.0088, 89.7], [0.007, 93.3], [0.0056, 97.8], [0.005, 100.3],
];
const CYC_KDE: number[][] = [
  [0.0051, 35.1], [0.0076, 39.6], [0.0105, 43.2], [0.0152, 45.9], [0.0205, 49.5], [0.024, 53],
  [0.0255, 58.4], [0.0249, 62], [0.0229, 63.7], [0.0188, 67.3], [0.0152, 71.8], [0.0129, 76.3],
  [0.0111, 81.7], [0.01, 86.1], [0.0076, 91.5], [0.0047, 96], [0.0026, 102.3], [0.0021, 108.6],
  [0.0015, 115.7], [0.0012, 119.1],
];
const GC_KDE: number[][] = [
  [0.0115, 57.2], [0.0164, 60.1], [0.0205, 63.3], [0.0226, 66.4], [0.0234, 70], [0.0232, 73.6],
  [0.0217, 78.1], [0.0193, 83.4], [0.0164, 88.8], [0.0135, 95.1], [0.0105, 101.4], [0.0076, 105.8],
  [0.0047, 112.1], [0.0038, 116.6], [0.0029, 122], [0.0023, 126],
];
const GC_BIG_KDE: number[][] = [
  [0.0092, 51.1], [0.0152, 54.7], [0.0211, 58.3], [0.0246, 62.7], [0.0255, 67.2], [0.0252, 71.7],
  [0.0234, 76.2], [0.0205, 80.6], [0.0164, 85.1], [0.0123, 88.8], [0.0088, 92.3], [0.007, 95.9],
  [0.0064, 100.4], [0.0059, 105.8], [0.0041, 112.1],
];
const GC_SMALL_KDE: number[][] = [
  [0.0046, 50], [0.0082, 52.9], [0.0135, 55.6], [0.0193, 58.2], [0.024, 61.8], [0.0261, 66.3],
  [0.0275, 69.9], [0.029, 73.5], [0.0287, 76.2], [0.027, 78.4], [0.0223, 82.5], [0.0164, 86.1],
  [0.0105, 89.7], [0.007, 93.2], [0.0053, 98.6], [0.0047, 104], [0.0035, 109.3], [0.0018, 115.9],
];
const NC_KDE: number[][] = [
  [0.0079, 52.2], [0.0135, 54.7], [0.0193, 57.5], [0.0246, 62.4], [0.0261, 66.4], [0.0267, 70.9],
  [0.0275, 75.4], [0.0278, 77.6], [0.027, 79.4], [0.0223, 83.4], [0.0164, 86.1], [0.0117, 88.8],
  [0.0076, 91.5], [0.0056, 95.1], [0.0053, 99.6], [0.0053, 104.9], [0.0044, 107.6], [0.0034, 110.3],
];

const RUNS = [CTC_RUNS, CYC_RUNS, GC_RUNS, GC_BIG_RUNS, GC_SMALL_RUNS, NC_RUNS];
const KDES = [CTC_KDE, CYC_KDE, GC_KDE, GC_BIG_KDE, GC_SMALL_KDE, NC_KDE];

const FONT = "DejaVu Sans";
const TEXT = "#222";
const AXIS = "#333";

function stepPoints(run: number[]): number[][] {
  const pts: number[][] = [[START_YEAR, 0]];
  let prev = 0;
  for (let i = 0; i < run.length; i += 2) {
    const y = run[i];
    const v = run[i + 1];
    pts.push([y - 1, prev]);
    pts.push([y, v]);
    prev = v;
  }
  pts.push([END_YEAR, prev]);
  return pts;
}

function buildOption(): any {
  const series: any[] = [];
  GROUPS.forEach((g, gi) => {
    RUNS[gi].forEach((run) => {
      series.push({
        type: "line",
        name: g,
        xAxisIndex: 0,
        yAxisIndex: 0,
        data: stepPoints(run),
        symbol: "none",
        showSymbol: false,
        silent: true,
        itemStyle: { color: COLORS[gi] },
        lineStyle: { color: COLORS[gi], width: 2, opacity: 0.47 },
      });
    });
  });
  GROUPS.forEach((g, gi) => {
    series.push({
      type: "line",
      name: g,
      xAxisIndex: 1,
      yAxisIndex: 1,
      data: KDES[gi],
      smooth: 0.4,
      symbol: "none",
      showSymbol: false,
      silent: true,
      itemStyle: { color: COLORS[gi] },
      lineStyle: { color: COLORS[gi], width: 1.6, opacity: 1 },
    });
  });

  const axisLine = { show: true, onZero: false, lineStyle: { color: AXIS, width: 1 } };
  const labelStyle = { fontFamily: FONT, fontSize: 12, color: TEXT };

  const legendCols = [67, 373, 697];
  const legend = legendCols.map((left, c) => ({
    orient: "vertical",
    left,
    top: 12,
    padding: 0,
    itemWidth: 26,
    itemHeight: 2,
    itemGap: 5,
    icon: "rect",
    selectedMode: false,
    textStyle: { fontFamily: FONT, fontSize: 12, color: TEXT, lineHeight: 14, padding: [0, 0, 0, 4] },
    data: GROUPS.slice(c * 2, c * 2 + 2).map((n, i) => ({
      name: n,
      itemStyle: { color: COLORS[c * 2 + i], opacity: 1 },
    })),
  }));

  return {
    animation: false,
    backgroundColor: "#fff",
    legend,
    graphic: [
      {
        type: "rect",
        z: -1,
        shape: { x: 62.5, y: 8.5, width: 731, height: 41, r: 3 },
        style: { fill: "rgba(255,255,255,0.8)", stroke: "#d0d0d0", lineWidth: 1 },
      },
      {
        type: "text",
        x: 428,
        y: 85,
        style: {
          text: "Total projects executed",
          fontFamily: FONT,
          fontSize: 14.4,
          fill: TEXT,
          align: "center",
          verticalAlign: "middle",
          textAlign: "center",
          textVerticalAlign: "middle",
        },
      },
    ],
    grid: [
      { left: 62, top: 97, width: 732, height: 468, containLabel: false, outerBoundsMode: "none" },
      { left: 839, top: 97, width: 183, height: 468, containLabel: false, outerBoundsMode: "none" },
    ],
    xAxis: [
      {
        type: "value",
        gridIndex: 0,
        min: 2018.96,
        max: 2128.16,
        axisLine,
        axisTick: { show: true, customValues: X_TICKS, length: 4, lineStyle: { color: AXIS } },
        axisLabel: { customValues: X_TICKS, margin: 8, ...labelStyle, formatter: (v: number) => String(v) },
        splitLine: { show: false },
        name: "Time",
        nameLocation: "middle",
        nameGap: 27,
        nameMoveOverlap: false,
        nameTextStyle: labelStyle,
      },
      {
        type: "value",
        gridIndex: 1,
        min: 0,
        max: 0.032,
        axisLine,
        axisTick: { show: true, customValues: KDE_TICKS, length: 4, lineStyle: { color: AXIS } },
        axisLabel: {
          customValues: KDE_TICKS,
          margin: 8,
          ...labelStyle,
          formatter: (v: number) => (v === 0 ? "0" : String(v)),
        },
        splitLine: { show: false },
      },
    ],
    yAxis: [
      {
        type: "value",
        gridIndex: 0,
        min: 0,
        max: 125.5,
        axisLine,
        axisTick: { show: true, customValues: Y_TICKS, length: 4, lineStyle: { color: AXIS } },
        axisLabel: { customValues: Y_TICKS, margin: 11, ...labelStyle, formatter: (v: number) => String(v) },
        splitLine: { show: false },
        name: "Projects executed",
        nameLocation: "middle",
        nameGap: 39,
        nameRotate: 90,
        nameMoveOverlap: false,
        nameTextStyle: labelStyle,
      },
      {
        type: "value",
        gridIndex: 1,
        min: 0,
        max: 125.5,
        axisLine,
        axisTick: { show: true, customValues: Y_TICKS, length: 4, lineStyle: { color: AXIS } },
        axisLabel: { show: false, customValues: Y_TICKS },
        splitLine: { show: false },
      },
    ],
    series,
  };
}

export default function App() {
  const ref = useRef<HTMLDivElement>(null);
  useEffect(() => {
    if (!ref.current) return;
    const chart = echarts.init(ref.current, null, { renderer: "svg" });
    chart.setOption(buildOption());
    return () => chart.dispose();
  }, []);
  return (
    <div
      ref={ref}
      style={{ position: "fixed", left: 0, top: 0, width: 1040, height: 604, background: "#fff" }}
    />
  );
}
